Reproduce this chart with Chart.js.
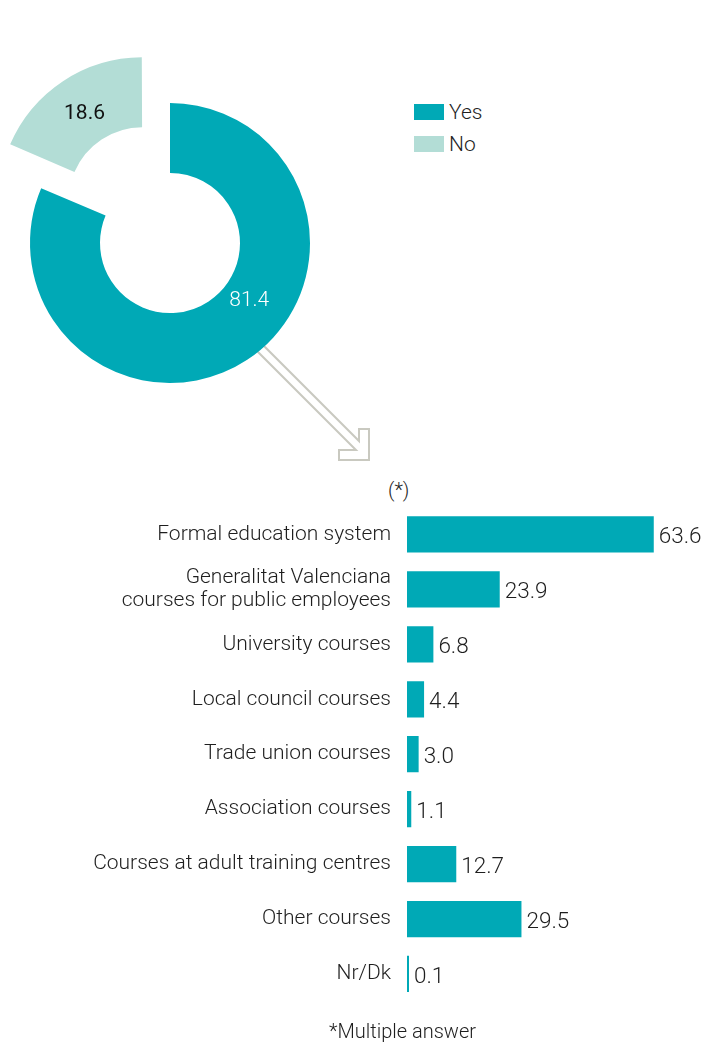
<!DOCTYPE html>
<html>
<head>
<meta charset="utf-8">
<script src="https://cdn.jsdelivr.net/npm/chart.js@4/dist/chart.umd.min.js"></script>
<style>
  html, body { margin: 0; padding: 0; background: #fff; }
  body { width: 708px; height: 1045px; position: relative; overflow: hidden;
         font-family: Roboto, "Noto Sans", sans-serif; font-weight: 300; color: #1e1e1e; }
  #arrow { position: absolute; left: 0; top: 0; }
  #donut { position: absolute; left: 0; top: 0; }
  #bars { position: absolute; left: 0; top: 470px; }
  .legend { position: absolute; left: 414px; font-size: 21px; line-height: 20px; }
  .legend span { display: inline-block; width: 30px; height: 16px; vertical-align: -1px; margin-right: 5px; }
  .note { position: absolute; font-size: 20px; }
</style>
</head>
<body>
<svg id="arrow" width="708" height="480">
  <polyline points="240,322 359,441 359,429 369,429 369,460 339,460 339,450 356,450 230,324"
            fill="none" stroke="#c9c9c0" stroke-width="2"/>
</svg>
<canvas id="donut" width="340" height="486"></canvas>
<div class="legend" style="top:102px"><span style="background:#00a9b6"></span>Yes</div>
<div class="legend" style="top:134px"><span style="background:#b3ddd6"></span>No</div>
<div class="note" style="left:388px; top:478px">(*)</div>
<canvas id="bars" width="708" height="559"></canvas>
<div class="note" style="left:329px; top:1019px">*Multiple answer</div>

<script>
// donut: share of respondents
const answerLabels = ["Yes", "No"];
const answerValues = [81.4, 18.6];

// bars: where the training was taken (multiple answer)
const courseLabels = [
  "Formal education system",
  ["Generalitat Valenciana", "courses for public employees"],
  "University courses",
  "Local council courses",
  "Trade union courses",
  "Association courses",
  "Courses at adult training centres",
  "Other courses",
  "Nr/Dk"
];
const courseValues = [63.6, 23.9, 6.8, 4.4, 3.0, 1.1, 12.7, 29.5, 0.1];

const TEAL = "#00a9b6";
const PALE = "#b3ddd6";
const FONT = "Roboto, 'Noto Sans', sans-serif";

// numbers inside the donut slices
const donutLabels = {
  id: "donutLabels",
  afterDatasetsDraw(chart) {
    const ctx = chart.ctx;
    const arcs = chart.getDatasetMeta(0).data;
    const where = [0.43, 0.5];          // position along each slice
    const colors = ["#ffffff", "#111111"];
    const weights = [300, 400];
    ctx.save();
    ctx.textAlign = "center";
    ctx.textBaseline = "middle";
    arcs.forEach((arc, i) => {
      const p = arc.getProps(["x", "y", "startAngle", "endAngle", "innerRadius", "outerRadius", "circumference"], true);
      const off = (arc.options.offset || 0) / 4;
      const mid = (p.startAngle + p.endAngle) / 2;
      const fix = 1 - Math.sin(Math.min(Math.PI, p.circumference));
      const a = p.startAngle + where[i] * (p.endAngle - p.startAngle);
      const r = (p.innerRadius + p.outerRadius) / 2 + off * fix - (i === 0 ? 7 : 4);
      const x = p.x + Math.cos(mid) * off + Math.cos(a) * r;
      const y = p.y + Math.sin(mid) * off + Math.sin(a) * r;
      ctx.font = weights[i] + " 21px " + FONT;
      ctx.fillStyle = colors[i];
      ctx.fillText(answerValues[i].toFixed(1), x, y);
    });
    ctx.restore();
  }
};

new Chart(document.getElementById("donut"), {
  type: "doughnut",
  data: {
    labels: answerLabels,
    datasets: [{
      data: answerValues,
      backgroundColor: [TEAL, PALE],
      borderWidth: 0,
      offset: [0, 200],
      hoverOffset: 0
    }]
  },
  options: {
    responsive: false,
    animation: false,
    radius: 140,
    cutout: "50%",
    layout: { padding: 0 },
    plugins: { legend: { display: false }, tooltip: { enabled: false } }
  },
  plugins: [donutLabels]
});

// value after each bar
const barValues = {
  id: "barValues",
  afterDatasetsDraw(chart) {
    const ctx = chart.ctx;
    ctx.save();
    ctx.font = "300 22.5px " + FONT;
    ctx.fillStyle = "#1e1e1e";
    ctx.textBaseline = "middle";
    chart.getDatasetMeta(0).data.forEach((bar, i) => {
      ctx.fillText(courseValues[i].toFixed(1), bar.x + 5, bar.y + 3);
    });
    ctx.restore();
  }
};

new Chart(document.getElementById("bars"), {
  type: "bar",
  data: {
    labels: courseLabels,
    datasets: [{
      data: courseValues,
      backgroundColor: TEAL,
      barPercentage: 0.66,
      categoryPercentage: 1,
      minBarLength: 2
    }]
  },
  options: {
    indexAxis: "y",
    responsive: false,
    animation: false,
    layout: { padding: { top: 37, bottom: 10, right: 10, left: 0 } },
    plugins: { legend: { display: false }, tooltip: { enabled: false } },
    scales: {
      x: { display: false, min: 0, max: 75 },
      y: {
        grid: { display: false, drawTicks: false },
        border: { display: false },
        ticks: {
          padding: 16,
          color: "#1e1e1e",
          font: { family: FONT, size: 21, weight: 300, lineHeight: 1.1 }
        },
        afterFit(scale) { scale.width = 407; }
      }
    }
  },
  plugins: [barValues]
});
</script>
</body>
</html>
